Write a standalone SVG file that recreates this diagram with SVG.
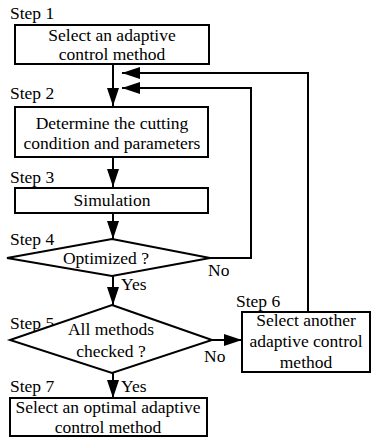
<svg xmlns="http://www.w3.org/2000/svg" width="374" height="438" viewBox="0 0 374 438">
<defs>
<style>
.box{fill:#fff;stroke:#000;stroke-width:2}
.ln{fill:none;stroke:#000;stroke-width:2}
text{font-family:"Liberation Serif","Times New Roman",serif;font-size:17.5px;fill:#000}
.c{text-anchor:middle}
</style>
<marker id="ah" viewBox="0 0 18 12" refX="18" refY="6" markerWidth="18" markerHeight="12" markerUnits="userSpaceOnUse" orient="auto">
<path d="M0,0 L18,6 L0,12 Z" fill="#000"/>
</marker>
</defs>
<rect width="374" height="438" fill="#fff"/>
<g id="connectors">
<line class="ln" x1="113" y1="64" x2="113" y2="106" marker-end="url(#ah)"/>
<line class="ln" x1="113" y1="157" x2="113" y2="187" marker-end="url(#ah)"/>
<line class="ln" x1="113" y1="213" x2="113" y2="239" marker-end="url(#ah)"/>
<polyline class="ln" points="210,258 251,258 251,88 122,88" marker-end="url(#ah)"/>
<line class="ln" x1="113" y1="276" x2="113" y2="305" marker-end="url(#ah)"/>
<line class="ln" x1="212" y1="340" x2="242" y2="340" marker-end="url(#ah)"/>
<polyline class="ln" points="308,312 308,73 122,73" marker-end="url(#ah)"/>
<line class="ln" x1="113" y1="373" x2="113" y2="398" marker-end="url(#ah)"/>
<text x="208" y="276">No</text>
<text x="121" y="290">Yes</text>
<text x="204" y="362">No</text>
<text x="121" y="392">Yes</text>
</g>
<g id="step1">
<text x="10" y="19">Step 1</text>
<rect class="box" x="15" y="25" width="194" height="39"/>
<text class="c" x="112" y="41">Select an adaptive</text>
<text class="c" x="112" y="60">control method</text>
</g>
<g id="step2">
<text x="10" y="99">Step 2</text>
<rect class="box" x="15" y="107" width="193" height="50"/>
<text class="c" x="112" y="129">Determine the cutting</text>
<text class="c" x="112" y="149">condition and parameters</text>
</g>
<g id="step3">
<text x="10" y="183">Step 3</text>
<rect class="box" x="15" y="188" width="193" height="25"/>
<text class="c" x="112" y="206">Simulation</text>
</g>
<g id="step4">
<text x="10" y="245">Step 4</text>
<polygon class="box" points="112,239 210,258 112,276 7,258"/>
<text class="c" x="106" y="264">Optimized ?</text>
</g>
<g id="step5">
<text x="10" y="329">Step 5</text>
<polygon class="box" points="112,305 212,340 112,373 10,340"/>
<text class="c" x="111" y="335">All methods</text>
<text class="c" x="111" y="357">checked ?</text>
</g>
<g id="step6">
<text x="236" y="307">Step 6</text>
<rect class="box" x="242" y="312" width="128" height="60"/>
<text class="c" x="306" y="326">Select another</text>
<text class="c" x="306" y="347">adaptive control</text>
<text class="c" x="306" y="368">method</text>
</g>
<g id="step7">
<text x="10" y="392">Step 7</text>
<rect class="box" x="10" y="398" width="197" height="38"/>
<text class="c" x="108" y="413">Select an optimal adaptive</text>
<text class="c" x="108" y="433">control method</text>
</g>
</svg>
